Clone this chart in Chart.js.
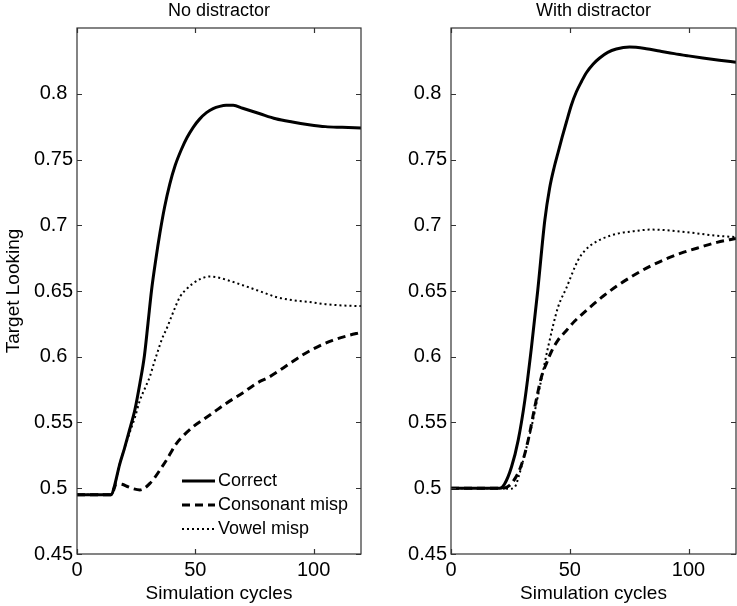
<!DOCTYPE html>
<html>
<head>
<meta charset="utf-8">
<script src="https://cdn.jsdelivr.net/npm/chart.js@4.4.1/dist/chart.umd.min.js"></script>
<style>
  html, body { margin: 0; padding: 0; background: #fff; }
  #left { position: absolute; left: 0; top: 0; }
  #right { position: absolute; left: 368px; top: 0; }
</style>
</head>
<body>
<canvas id="left" width="368" height="606"></canvas>
<canvas id="right" width="369" height="606"></canvas>
<script>
// tick values
var xTicks = [0, 50, 100];
var yTicks = [0.45, 0.5, 0.55, 0.6, 0.65, 0.7, 0.75, 0.8];
var seriesNames = ['Correct', 'Consonant misp', 'Vowel misp'];

// No distractor
var ndCorrectX = [0, 14.5, 16, 18, 20, 22, 24.5, 26.6, 28.5, 30, 31.5, 33.3, 35, 37, 39.2, 41.5, 44.2, 46.5, 49.1, 51.8, 54.7, 57.5, 60.3, 63, 66, 70, 77, 84, 91, 98, 105, 112, 120];
var ndCorrectY = [0.495, 0.495, 0.503, 0.518, 0.530, 0.543, 0.560, 0.580, 0.601, 0.6255, 0.6506, 0.674, 0.6937, 0.7137, 0.7313, 0.7456, 0.758, 0.7667, 0.7745, 0.7807, 0.7856, 0.7887, 0.7904, 0.7912, 0.7912, 0.789, 0.785, 0.781, 0.7785, 0.7765, 0.775, 0.7745, 0.774];
var ndConsX = [0, 14.5, 16.7, 19, 21.7, 24, 26.6, 28.5, 30.8, 33, 35, 38, 42, 45.5, 49, 54, 59, 63, 70, 75.8, 81.4, 90, 95, 101, 108, 114, 120];
var ndConsY = [0.495, 0.495, 0.5035, 0.503, 0.501, 0.4995, 0.4987, 0.500, 0.5037, 0.5085, 0.5138, 0.522, 0.534, 0.541, 0.5467, 0.553, 0.5594, 0.5645, 0.5725, 0.5797, 0.5848, 0.595, 0.601, 0.607, 0.6125, 0.6158, 0.6185];
var ndVowelX = [0, 14.5, 16, 18, 20, 22.4, 24.5, 26.6, 28.7, 30.8, 32.5, 34.3, 36, 37.8, 40, 43.5, 46, 49, 52, 56, 59, 64, 70, 77, 84, 91, 98, 105, 112, 120];
var ndVowelY = [0.495, 0.495, 0.503, 0.518, 0.530, 0.543, 0.554, 0.567, 0.576, 0.585, 0.595, 0.605, 0.614, 0.621, 0.631, 0.6455, 0.651, 0.6557, 0.659, 0.661, 0.6605, 0.658, 0.6544, 0.650, 0.6455, 0.643, 0.6417, 0.640, 0.639, 0.6385];

// With distractor
var wdCorrectX = [0, 20.6, 22.5, 25.5, 28.3, 31.1, 33.9, 36.5, 39.5, 41.5, 43.5, 45.1, 46.8, 48.6, 50.7, 52.8, 55, 57, 59.8, 62.6, 66, 69.6, 75.2, 82.2, 87.8, 94, 100, 106, 113, 120];
var wdCorrectY = [0.5, 0.5, 0.503, 0.5163, 0.5366, 0.567, 0.6075, 0.650, 0.7038, 0.728, 0.7445, 0.7555, 0.767, 0.7785, 0.7915, 0.8015, 0.8095, 0.816, 0.8225, 0.8272, 0.8315, 0.834, 0.8355, 0.8343, 0.8325, 0.8305, 0.8288, 0.8272, 0.8255, 0.824];
var wdConsX = [0, 21, 23, 24.5, 27, 29.7, 32.5, 35.3, 38.1, 40.2, 42.3, 45, 48.6, 52, 55.6, 60, 64, 70, 77.5, 84, 91.3, 98, 105.3, 112, 120];
var wdConsY = [0.5, 0.5, 0.5005, 0.502, 0.5075, 0.518, 0.5366, 0.562, 0.5848, 0.595, 0.604, 0.6125, 0.620, 0.627, 0.633, 0.640, 0.646, 0.654, 0.6625, 0.669, 0.675, 0.6795, 0.6835, 0.687, 0.690];
var wdVowelX = [0, 22, 24.5, 26.9, 28.5, 30.4, 33.9, 37.4, 40.9, 45.1, 48.5, 53.5, 56.5, 59.8, 64, 70.3, 77, 84.3, 91, 98.3, 105, 112, 120];
var wdVowelY = [0.5, 0.5, 0.4995, 0.501, 0.509, 0.5214, 0.5467, 0.5771, 0.6075, 0.6379, 0.652, 0.6734, 0.681, 0.686, 0.690, 0.6937, 0.6955, 0.6967, 0.6962, 0.6949, 0.6935, 0.692, 0.691];

var FONT = "'Liberation Sans', Arial, Helvetica, sans-serif";

function pts(xs, ys) {
  return xs.map(function(x, i) { return {x: x, y: ys[i]}; });
}

function makeSets(cx, cy, kx, ky, vx, vy) {
  return [
    { label: seriesNames[0], data: pts(cx, cy), borderColor: '#000', borderWidth: 3, borderDash: [] },
    { label: seriesNames[1], data: pts(kx, ky), borderColor: '#000', borderWidth: 3, borderDash: [8, 5] },
    { label: seriesNames[2], data: pts(vx, vy), borderColor: '#000', borderWidth: 2, borderDash: [2, 3] }
  ];
}

// box around the plot with MATLAB-style inward ticks
var framePlugin = {
  id: 'frame',
  afterDatasetsDraw: function(chart) {
    var a = chart.chartArea, ctx = chart.ctx;
    var xs = chart.scales.x, ys = chart.scales.y;
    ctx.save();
    ctx.strokeStyle = '#333';
    ctx.lineWidth = 1.2;
    ctx.strokeRect(a.left, a.top, a.right - a.left, a.bottom - a.top);
    ctx.beginPath();
    xTicks.forEach(function(v) {
      var p = Math.round(xs.getPixelForValue(v)) + 0.5;
      ctx.moveTo(p, a.bottom); ctx.lineTo(p, a.bottom - 5);
      ctx.moveTo(p, a.top); ctx.lineTo(p, a.top + 5);
    });
    yTicks.forEach(function(v) {
      var p = Math.round(ys.getPixelForValue(v)) + 0.5;
      ctx.moveTo(a.left, p); ctx.lineTo(a.left + 5, p);
      ctx.moveTo(a.right, p); ctx.lineTo(a.right - 5, p);
    });
    ctx.stroke();
    ctx.restore();
  }
};

// legend inside the lower right of the first panel
var innerLegend = {
  id: 'innerLegend',
  afterDraw: function(chart, args, opts) {
    if (!opts.show) return;
    var a = chart.chartArea, ctx = chart.ctx;
    var x0 = a.left + 105, len = 33;
    var rows = [-73, -49, -25];
    ctx.save();
    ctx.font = '18px ' + FONT;
    ctx.textBaseline = 'middle';
    ctx.fillStyle = '#000';
    chart.data.datasets.forEach(function(ds, i) {
      var y = a.bottom + rows[i];
      ctx.strokeStyle = ds.borderColor;
      ctx.lineWidth = ds.borderWidth;
      ctx.setLineDash(ds.borderDash);
      ctx.beginPath();
      ctx.moveTo(x0, y); ctx.lineTo(x0 + len, y);
      ctx.stroke();
      ctx.setLineDash([]);
      ctx.fillText(ds.label, x0 + len + 3, y);
    });
    ctx.restore();
  }
};

function makeChart(id, title, sets, yTitle, yWidth, padRight, legendOn) {
  return new Chart(document.getElementById(id), {
    type: 'line',
    data: { datasets: sets },
    plugins: [framePlugin, innerLegend],
    options: {
      responsive: false,
      animation: false,
      devicePixelRatio: 1,
      layout: { padding: { left: 0, right: padRight, top: 0, bottom: 0 } },
      elements: {
        point: { radius: 0 },
        line: { cubicInterpolationMode: 'monotone', fill: false }
      },
      scales: {
        x: {
          type: 'linear', min: 0, max: 120,
          afterBuildTicks: function(s) { s.ticks = xTicks.map(function(v) { return {value: v}; }); },
          afterFit: function(s) { s.height = 52; },
          grid: { display: false, drawTicks: false },
          border: { display: false },
          ticks: { color: '#000', padding: 4, maxRotation: 0, font: { family: FONT, size: 20 } },
          title: { display: true, text: 'Simulation cycles', color: '#000', padding: { top: 0, bottom: 1 }, font: { family: FONT, size: 19 } }
        },
        y: {
          type: 'linear', min: 0.45, max: 0.85,
          afterBuildTicks: function(s) { s.ticks = yTicks.map(function(v) { return {value: v}; }); },
          afterFit: function(s) { s.width = yWidth; },
          grid: { display: false, drawTicks: false },
          border: { display: false },
          ticks: {
            color: '#000', padding: 4, font: { family: FONT, size: 20 },
            callback: function(v) {
              var t = String(Math.round(v * 100) / 100);
              return t.length < 4 ? t + ' ' : t;
            }
          },
          title: { display: yTitle !== '', text: yTitle, color: '#000', padding: { top: 2, bottom: 0 }, font: { family: FONT, size: 19 } }
        }
      },
      plugins: {
        legend: { display: false },
        tooltip: { enabled: false },
        title: {
          display: true, text: title, color: '#000', fullSize: false,
          padding: { top: 0, bottom: 6.4 },
          font: { family: FONT, size: 18, weight: 'normal' }
        },
        innerLegend: { show: legendOn }
      }
    }
  });
}

makeChart('left', 'No distractor', makeSets(ndCorrectX, ndCorrectY, ndConsX, ndConsY, ndVowelX, ndVowelY), 'Target Looking', 77, 7, true);
makeChart('right', 'With distractor', makeSets(wdCorrectX, wdCorrectY, wdConsX, wdConsY, wdVowelX, wdVowelY), '', 83, 1, false);
</script>
</body>
</html>
